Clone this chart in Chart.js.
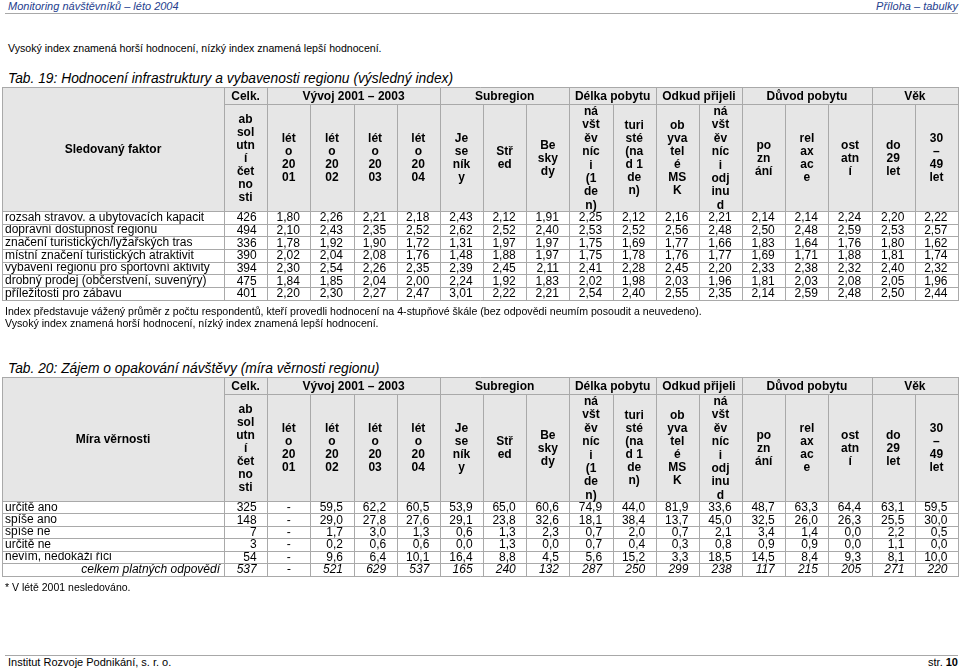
<!DOCTYPE html>
<html><head><meta charset="utf-8">
<script src="https://cdn.jsdelivr.net/npm/chart.js@4/dist/chart.umd.min.js"></script>
<style>
html,body{margin:0;padding:0;background:#fff;}
#page{position:relative;width:960px;height:669px;overflow:hidden;font-family:"Liberation Sans",Arial,sans-serif;color:#000;}
.t{position:absolute;white-space:nowrap;line-height:14px;}
.hd{font-size:11px;font-style:italic;color:#24408e;}
.nt{font-size:10.6px;}
canvas{position:absolute;left:0;}
</style></head><body>
<div id="page">
  <div class="t hd" style="left:8px;top:-1px;">Monitoring návštěvníků – léto 2004</div>
  <div class="t hd" style="right:2px;top:-1px;">Příloha – tabulky</div>
  <div style="position:absolute;left:5px;width:953px;top:13px;height:1px;background:#a8a8a8"></div>
  <div class="t nt" style="left:8px;top:41px;">Vysoký index znamená horší hodnocení, nízký index znamená lepší hodnocení.</div>
  <div class="t" style="left:8px;top:71px;font-size:13.8px;font-style:italic;line-height:16px;">Tab. 19: Hodnocení infrastruktury a vybavenosti regionu (výsledný index)</div>
  <canvas id="t1" width="960" height="220" style="top:87px"></canvas>
  <div class="t nt" style="left:5px;top:304px;">Index představuje vážený průměr z počtu respondentů, kteří provedli hodnocení na 4-stupňové škále (bez odpovědi neumím posoudit a neuvedeno).</div>
  <div class="t nt" style="left:5px;top:316px;">Vysoký index znamená horší hodnocení, nízký index znamená lepší hodnocení.</div>
  <div class="t" style="left:8px;top:361px;font-size:13.8px;font-style:italic;line-height:16px;">Tab. 20: Zájem o opakování návštěvy (míra věrnosti regionu)</div>
  <canvas id="t2" width="960" height="206" style="top:377px"></canvas>
  <div class="t" style="left:5px;top:580px;font-size:10.5px;">* V létě 2001 nesledováno.</div>
  <div style="position:absolute;left:5px;width:953px;top:655px;height:1px;background:#a8a8a8"></div>
  <div class="t" style="left:8px;top:655px;font-size:11px;">Institut Rozvoje Podnikání, s. r. o.</div>
  <div class="t" style="right:2px;top:655px;font-size:11px;">str. <b>10</b></div>
</div>
<script>
// ---------- DATA ----------
const groupHeaders = ['Celk.', 'Vývoj 2001 – 2003', 'Subregion', 'Délka pobytu', 'Odkud přijeli', 'Důvod pobytu', 'Věk'];
const groupSpans = [1, 4, 3, 2, 2, 3, 2];
const columnHeaders = [
  ['ab','sol','utn','í','čet','no','sti'],
  ['lét','o','20','01'], ['lét','o','20','02'], ['lét','o','20','03'], ['lét','o','20','04'],
  ['Je','se','ník','y'], ['Stř','ed'], ['Be','sky','dy'],
  ['ná','všt','ěv','níc','i','(1','de','n)'], ['turi','sté','(na','d 1','de','n)'],
  ['ob','yva','tel','é','MS','K'], ['ná','všt','ěv','níc','i','odj','inu','d'],
  ['po','zn','ání'], ['rel','ax','ac','e'], ['ost','atn','í'],
  ['do','29','let'], ['30','–','49','let']
];
const columnKeys = ['celk','l2001','l2002','l2003','l2004','jeseniky','stred','beskydy','navstevnici','turiste','obyvatele','odjinud','poznani','relaxace','ostatni','do29','30_49'];

// Tab. 19
const t1Factors = [
  'rozsah stravov. a ubytovacích kapacit',
  'dopravní dostupnost regionu',
  'značení turistických/lyžařských tras',
  'místní značení turistických atraktivit',
  'vybavení regionu pro sportovní aktivity',
  'drobný prodej (občerstvení, suvenýry)',
  'příležitosti pro zábavu'
];
const t1Counts = [426, 494, 336, 390, 394, 475, 401];
const t1Index = [
  [1.80,2.26,2.21,2.18,2.43,2.12,1.91,2.25,2.12,2.16,2.21,2.14,2.14,2.24,2.20,2.22],
  [2.10,2.43,2.35,2.52,2.62,2.52,2.40,2.53,2.52,2.56,2.48,2.50,2.48,2.59,2.53,2.57],
  [1.78,1.92,1.90,1.72,1.31,1.97,1.97,1.75,1.69,1.77,1.66,1.83,1.64,1.76,1.80,1.62],
  [2.02,2.04,2.08,1.76,1.48,1.88,1.97,1.75,1.78,1.76,1.77,1.69,1.71,1.88,1.81,1.74],
  [2.30,2.54,2.26,2.35,2.39,2.45,2.11,2.41,2.28,2.45,2.20,2.33,2.38,2.32,2.40,2.32],
  [1.84,1.85,2.04,2.00,2.24,1.92,1.83,2.02,1.98,2.03,1.96,1.81,2.03,2.08,2.05,1.96],
  [2.20,2.30,2.27,2.47,3.01,2.22,2.21,2.54,2.40,2.55,2.35,2.14,2.59,2.48,2.50,2.44]
];

// Tab. 20
const t2Answers = ['určitě ano', 'spíše ano', 'spíše ne', 'určitě ne', 'nevím, nedokáži říci', 'celkem platných odpovědí'];
const t2Counts = [325, 148, 7, 3, 54];
const t2Percent = [
  [null,59.5,62.2,60.5,53.9,65.0,60.6,74.9,44.0,81.9,33.6,48.7,63.3,64.4,63.1,59.5],
  [null,29.0,27.8,27.6,29.1,23.8,32.6,18.1,38.4,13.7,45.0,32.5,26.0,26.3,25.5,30.0],
  [null,1.7,3.0,1.3,0.6,1.3,2.3,0.7,2.0,0.7,2.1,3.4,1.4,0.0,2.2,0.5],
  [null,0.2,0.6,0.6,0.0,1.3,0.0,0.7,0.4,0.3,0.8,0.9,0.9,0.0,1.1,0.0],
  [null,9.6,6.4,10.1,16.4,8.8,4.5,5.6,15.2,3.3,18.5,14.5,8.4,9.3,8.1,10.0]
];
const t2Totals = [537, null, 521, 629, 537, 165, 240, 132, 287, 250, 299, 238, 117, 215, 205, 271, 220];

// ---------- BUILD ----------
const FONT = '"Liberation Sans", Arial, sans-serif';
const fmt = (v, d) => v === null ? '-' : v.toFixed(d).replace('.', ',');
const t1Cells = t1Counts.map((c, r) => [fmt(c, 0)].concat(t1Index[r].map(v => fmt(v, 2))));
const t2Cells = t2Counts.map((c, r) => [fmt(c, 0)].concat(t2Percent[r].map(v => fmt(v, 1))))
  .concat([t2Totals.map(v => fmt(v, 0))]);

const px = v => Math.round(v) + 0.5;

const tablePlugin = {
  id: 'tableDraw',
  beforeDraw(chart, args, o) {
    const {ctx, chartArea: ca} = chart;
    const hTop = ca.top - o.headerH;
    ctx.save();
    ctx.fillStyle = o.headerBg;
    ctx.fillRect(o.left, hTop, ca.right - o.left, o.headerH);
    ctx.restore();
  },
  afterDraw(chart, args, o) {
    const {ctx, chartArea: ca, scales: {x: xs, y: ys}} = chart;
    const n = columnKeys.length;
    const bw = xs.getPixelForValue(1) - xs.getPixelForValue(0);
    const rh = ys.getPixelForValue(1) - ys.getPixelForValue(0);
    const colL = i => xs.getPixelForValue(0) - bw / 2 + i * bw;
    const rowT = r => ys.getPixelForValue(0) - rh / 2 + r * rh;
    const hTop = ca.top - o.headerH, h1b = hTop + o.row1H;
    const L = o.left, R = ca.right, B = ca.bottom;
    const nRows = o.cells.length;

    ctx.save();
    ctx.strokeStyle = o.lineColor;
    ctx.lineWidth = 1;
    ctx.beginPath();
    const hl = (y, x0, x1) => { ctx.moveTo(x0, px(y)); ctx.lineTo(x1, px(y)); };
    const vl = (x, y0, y1) => { ctx.moveTo(px(x), y0); ctx.lineTo(px(x), y1); };
    hl(hTop, L, R + 1);
    hl(h1b, ca.left, R + 1);
    for (let r = 0; r <= nRows; r++) hl(rowT(r), L, R + 1);
    vl(L, hTop, B + 1);
    let acc = 0;
    vl(colL(0), hTop, B + 1);
    groupSpans.forEach(s => { acc += s; vl(colL(acc), hTop, h1b); });
    for (let c = 1; c <= n; c++) vl(colL(c), h1b, B + 1);
    ctx.stroke();

    ctx.fillStyle = '#000';
    ctx.textBaseline = 'middle';
    // header row 1
    ctx.font = 'bold 12px ' + FONT;
    ctx.textAlign = 'center';
    acc = 0;
    groupHeaders.forEach((g, i) => {
      const x0 = colL(acc), x1 = colL(acc + groupSpans[i]);
      ctx.fillText(g, (x0 + x1) / 2, (hTop + h1b) / 2 + 1);
      acc += groupSpans[i];
    });
    // label column header
    ctx.fillText(o.labelHeader, (L + ca.left) / 2, (hTop + ca.top) / 2 + 1);
    // header row 2
    const cy = (h1b + ca.top) / 2 + 1;
    columnHeaders.forEach((lines, c) => {
      const lh = lines.length >= 8 ? 13.4 : 13;
      const x = xs.getPixelForValue(c);
      lines.forEach((t, k) => ctx.fillText(t, x, cy + (k - (lines.length - 1) / 2) * lh));
    });
    // cells
    o.cells.forEach((row, r) => {
      const y = ys.getPixelForValue(r) + 0.5;
      const it = o.italicRows.includes(r);
      ctx.font = (it ? 'italic ' : '') + '12px ' + FONT;
      row.forEach((txt, c) => {
        if (txt === '-') { ctx.textAlign = 'center'; ctx.fillText(txt, xs.getPixelForValue(c), y); }
        else { ctx.textAlign = 'right'; ctx.fillText(txt, colL(c + 1) - 10.5, y); }
      });
      if (it) {
        ctx.textAlign = 'right';
        ctx.fillText(o.rowLabels[r], ca.left - 4, y);
      }
    });
    ctx.restore();
  }
};

function makeTable(id, rowLabels, cells, labelHeader, italicRows) {
  return new Chart(document.getElementById(id), {
    type: 'bar',
    data: { labels: columnKeys, datasets: [] },
    plugins: [tablePlugin],
    options: {
      responsive: false, animation: false, devicePixelRatio: 1,
      events: [],
      layout: { padding: { left: 5, right: 2, top: 124, bottom: 1 } },
      plugins: {
        legend: { display: false }, tooltip: { enabled: false },
        tableDraw: { cells, rowLabels, labelHeader, italicRows, headerH: 124, row1H: 17, left: 2,
                     headerBg: '#e6e6e6', lineColor: '#a9a9a9' }
      },
      scales: {
        x: { type: 'category', labels: columnKeys, offset: true, display: false },
        y: {
          type: 'category', labels: rowLabels, offset: true, position: 'left',
          grid: { display: false }, border: { display: false },
          afterFit: s => { s.width = 219; },
          ticks: {
            autoSkip: false, padding: 0, crossAlign: 'far', color: '#000',
            font: { family: FONT, size: 12 },
            callback: (v, i) => italicRows.includes(i) ? '' : rowLabels[i]
          }
        }
      }
    }
  });
}

makeTable('t1', t1Factors, t1Cells, 'Sledovaný faktor', []);
makeTable('t2', t2Answers, t2Cells, 'Míra věrnosti', [5]);
</script>
</body></html>
